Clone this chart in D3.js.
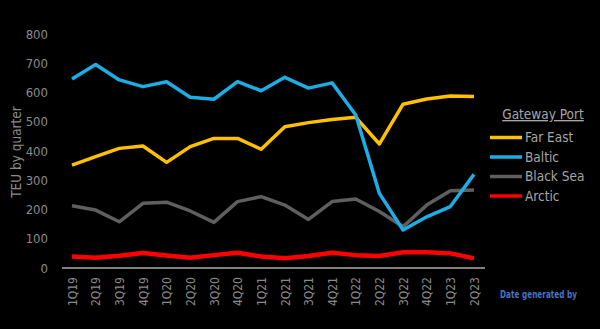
<!DOCTYPE html>
<html><head><meta charset="utf-8">
<script src="https://cdn.jsdelivr.net/npm/d3@7"></script>
<style>
html,body{margin:0;padding:0;background:#000;}
svg{display:block;}
text{font-family:"DejaVu Sans Condensed","Roboto",sans-serif;}
</style></head>
<body><svg id="c" width="600" height="329"></svg>
<script>
const quarters = ["1Q19","2Q19","3Q19","4Q19","1Q20","2Q20","3Q20","4Q20","1Q21","2Q21","3Q21","4Q21","1Q22","2Q22","3Q22","4Q22","1Q23","2Q23"];
const farEast  = [352,381,409,417,361,415,443,443,406,483,497,508,515,424,560,578,588,586];
const baltic   = [646,696,643,620,637,584,577,637,606,652,615,633,523,255,130,175,210,320];
const blackSea = [213,198,158,221,225,195,156,227,244,215,166,227,236,193,141,215,264,267];
const arctic   = [39,35,42,51,43,35,44,52,39,33,41,52,44,41,54,54,50,33];
const seriesNames = ["Far East","Baltic","Black Sea","Arctic"];
const seriesColors = ["#FFC000","#1CADE4","#5F5F5F","#FF0000"];
const yTicks = [0,100,200,300,400,500,600,700,800];

const svg = d3.select("#c");
const x = d3.scalePoint().domain(quarters).range([72,474]);
const y = d3.scaleLinear().domain([0,800]).range([268,34]);

// y axis labels
const yAxis = d3.axisLeft(y).tickValues(yTicks).tickSize(0).tickPadding(0);
const gy = svg.append("g").attr("transform","translate(48,0)").call(yAxis);
gy.select(".domain").remove();
gy.selectAll("text").attr("fill","#8a8a8a").style("font-size","13px");

// y title
svg.append("text").attr("transform","translate(21,152) rotate(-90)")
  .attr("text-anchor","middle").attr("fill","#8a8a8a").style("font-size","13.5px")
  .text("TEU by quarter");

// series
const data = [farEast, baltic, blackSea, arctic];
const widths = [3.5,3.5,3.5,4.5];
const line = d3.line().x((d,i)=>x(quarters[i])).y(d=>y(d));
[3,2,0,1].forEach(k=>{
  svg.append("path").datum(data[k]).attr("d",line)
    .attr("fill","none").attr("stroke",seriesColors[k]).attr("stroke-width",widths[k])
    .attr("stroke-linejoin","round").attr("stroke-linecap","butt");
});

// x axis
const xAxis = d3.axisBottom(x).tickSize(0).tickPadding(0);
const gx = svg.append("g").attr("transform","translate(0,268)").call(xAxis);
gx.select(".domain").remove();
svg.append("line").attr("x1",62).attr("x2",485).attr("y1",268).attr("y2",268)
  .attr("stroke","#ffffff").attr("stroke-width",1.2);
gx.selectAll("text").attr("fill","#8a8a8a").style("font-size","12px")
  .attr("transform","rotate(-90)").attr("text-anchor","end")
  .attr("x",-9).attr("y",0).attr("dy","0.35em");

// legend
const lg = svg.append("g");
lg.append("text").attr("x",543).attr("y",119).attr("text-anchor","middle")
  .attr("fill","#a6a6a6").style("font-size","13.5px").style("text-decoration","underline")
  .text("Gateway Port");
seriesNames.forEach((n,i)=>{
  const yy = 137.5 + i*19.5;
  lg.append("line").attr("x1",490).attr("x2",522).attr("y1",yy).attr("y2",yy)
    .attr("stroke",seriesColors[i]).attr("stroke-width",3.5);
  lg.append("text").attr("x",525).attr("y",yy).attr("dy","0.35em")
    .attr("fill","#a6a6a6").style("font-size","13.5px").text(n);
});

svg.append("text").attr("x",500).attr("y",298).attr("fill","#4472C4")
  .style("font-size","11px").style("font-weight","bold")
  .attr("textLength",77).attr("lengthAdjust","spacingAndGlyphs")
  .text("Date generated by");
</script></body></html>
